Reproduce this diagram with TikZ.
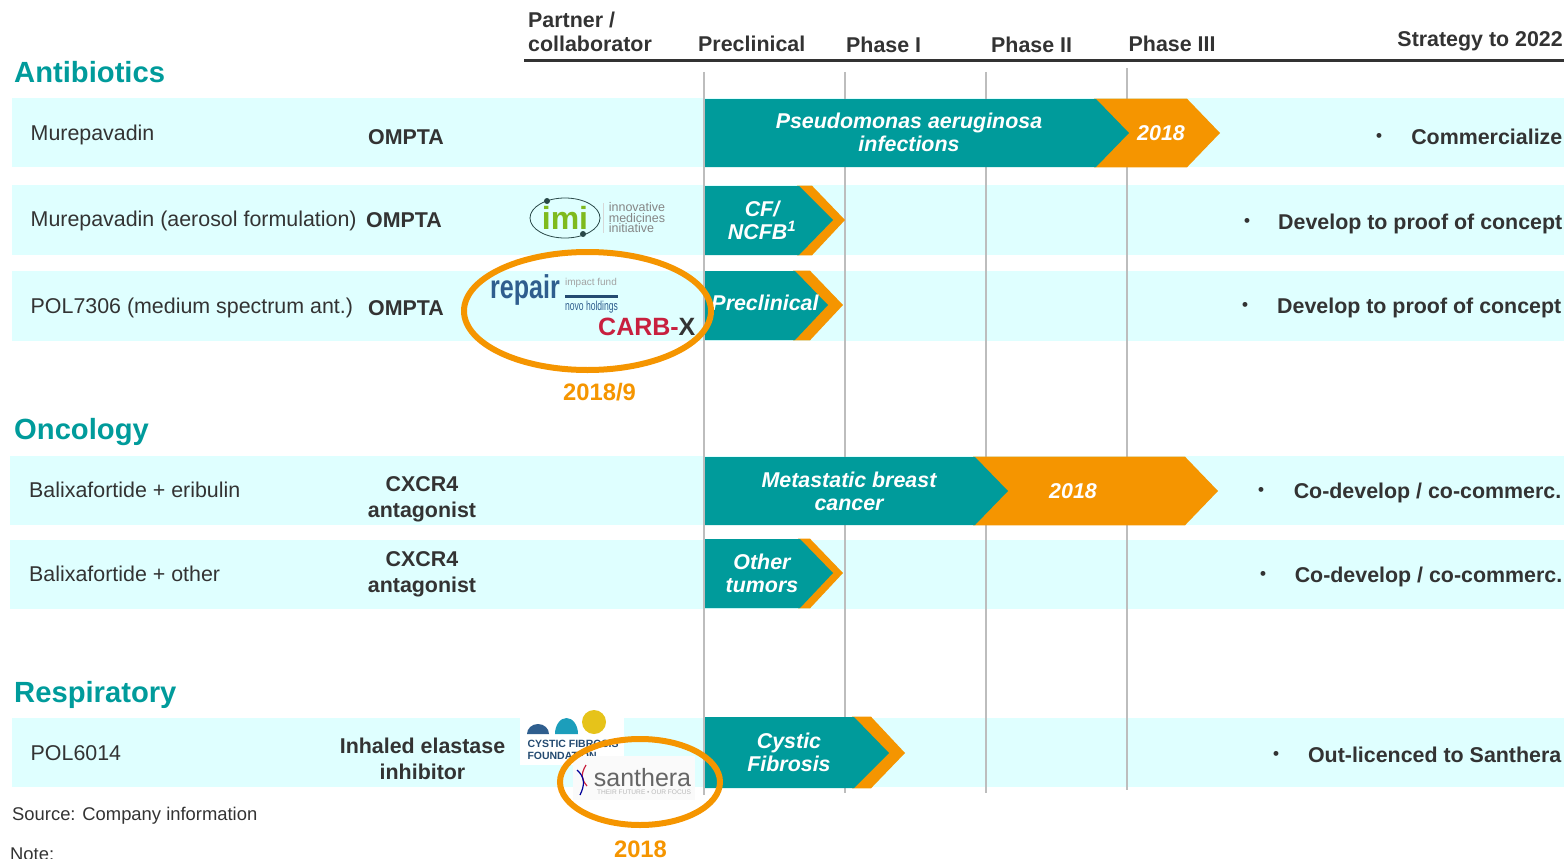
\documentclass[tikz,border=0pt]{standalone}
\usepackage{fontspec}
\setmainfont{Liberation Sans}
\usepackage{tikz}
\definecolor{tealfill}{HTML}{009B9B}
\definecolor{orangefill}{HTML}{F59500}
\definecolor{bandfill}{HTML}{DFFFFF}
\definecolor{darktext}{HTML}{333333}
\definecolor{gridgrey}{HTML}{BDBDBD}
\definecolor{repairblue}{HTML}{2F5E8E}
\definecolor{carbred}{HTML}{C8203F}
\definecolor{imigreen}{HTML}{7FBA1E}
\newcommand{\fsz}[2]{\fontsize{#1}{#2}\selectfont}

\begin{document}
\begin{tikzpicture}[x=1pt, y=-1pt,
    section/.style={anchor=base west, inner sep=0pt, text=tealfill, font=\fsz{29.2}{32}\bfseries},
    header/.style={anchor=base west, inner sep=0pt, align=left, text=darktext, font=\fsz{21.4}{24}\bfseries},
    rowname/.style={anchor=base west, inner sep=0pt, text=darktext, font=\fsz{21.4}{24}},
    target/.style={inner sep=0pt, align=center, text=darktext, font=\fsz{21.4}{26}\bfseries},
    strategy/.style={anchor=base east, inner sep=0pt, text=darktext, font=\fsz{21.4}{25}\bfseries},
    dot/.style={inner sep=0pt, text=darktext, font=\fsz{17}{20}\bfseries},
    stage/.style={inner sep=0pt, align=center, text=white, font=\fsz{21.4}{23}\bfseries\itshape},
    year/.style={inner sep=0pt, text=orangefill, font=\fsz{23.8}{26}\bfseries},
    ring/.style={draw=orangefill, line width=6pt}]
    \clip (0,0) rectangle (1564,859);
    % bands
    \foreach \xa/\ya/\yb in {12/98/167,12/185/255,12/271/341,10/456/525,10/540/609,12/718/787}
    \fill[bandfill] (\xa,\ya) rectangle (1564,\yb);
    % phase lines
    \foreach \x/\ya/\yb in {704/72/795,845/72/793,986/72/793,1127/68/790}
    \draw[gridgrey, line width=1.3pt] (\x,\ya) -- (\x,\yb);
    \draw[darktext, line width=2.4pt] (524,60.5) -- (1564,60.5);
    % chevrons
    \foreach \ya/\ym/\yb/\xa/\xb/\xc/\xd in {
      99/133/167/1096/1129/1187/1220,
      186/220/255/799/833/812/845,
      271/305/340/795/828/810/843,
      457/491/525/975/1008/1185/1218,
      539/573/608/800/833/810/843,
      717/753/788/854/889/871/905}
    {
    \fill[orangefill] (\xa-2,\ya-0.3) -- (\xc,\ya-0.3) -- (\xd,\ym) -- (\xc,\yb+0.3) -- (\xa-2,\yb+0.3) -- cycle;
    \fill[tealfill] (705,\ya) -- (\xa,\ya) -- (\xb,\ym) -- (\xa,\yb) -- (705,\yb) -- cycle;
    }
    % headers
    \node[header] (partner) at (528,52) {Partner /\\collaborator};
    \node[header] (preclin) at (698,52) {Preclinical};
    \node[header] (phasea) at (846,53) {Phase I};
    \node[header] (phaseb) at (991,53) {Phase II};
    \node[header] (phasec) at (1128.5,52) {Phase III};
    \node[strategy] (strat) at (1563,46.5) {Strategy to 2022};
    % sections
    \node[section] (antib) at (14,82) {Antibiotics};
    \node[section] (oncol) at (14,439) {Oncology};
    \node[section] (respi) at (14,702) {Respiratory};
    % row names
    \node[rowname] (mur) at (30.5,140) {Murepavadin};
    \node[rowname] (muraer) at (30.5,226) {Murepavadin (aerosol formulation)};
    \node[rowname] (pol73) at (30.5,313) {POL7306 (medium spectrum ant.)};
    \node[rowname] (balie) at (29,497) {Balixafortide + eribulin};
    \node[rowname] (balio) at (29,581) {Balixafortide + other};
    \node[rowname] (pol60) at (30.5,760) {POL6014};
    % targets
    \node[target] (ta) at (406,137) {OMPTA};
    \node[target] (tb) at (404,220) {OMPTA};
    \node[target] (tc) at (406,308) {OMPTA};
    \node[target] (td) at (422,499) {CXCR4\\antagonist};
    \node[target] (te) at (422,574) {CXCR4\\antagonist};
    \node[target] (tf) at (422.5,759) {Inhaled elastase\\inhibitor};
    % stages
    \node[stage] (sa) at (909,132.5) {Pseudomonas aeruginosa\\infections};
    \node[stage] (saa) at (1161,133) {2018};
    \node[stage] (sb) at (762,220) {CF/\\NCFB\textsuperscript{1}};
    \node[stage] (sc) at (765,303) {Preclinical};
    \node[stage] (sd) at (849,491) {Metastatic breast\\cancer};
    \node[stage] (sdd) at (1073,491) {2018};
    \node[stage] (se) at (762,573.5) {Other\\tumors};
    \node[stage] (sf) at (789,752.5) {Cystic\\Fibrosis};
    % strategy
    \foreach \x/\y/\txt/\b in {
      1562.5/144/{Commercialize}/1379,
      1562.5/229/{Develop to proof of concept}/1247,
      1561.5/313/{Develop to proof of concept}/1245,
      1561.5/498/{Co-develop / co-commerc.}/1261,
      1562.5/582/{Co-develop / co-commerc.}/1263,
      1561.5/762/{Out-licenced to Santhera}/1276}
    {
    \node[strategy] at (\x,\y) {\txt};
    \node[dot] at (\b,\y-7) {•};
    }
    % imi logo
    \draw[darktext!80!tealfill, line width=0.8pt] (565,218) ellipse (35 and 20);
    \fill[darktext!80!tealfill] (547,201) circle (3) (583,234) circle (3);
    \node[inner sep=0pt, text=imigreen, font=\fsz{32}{32}\bfseries] (imi) at (565,218) {imi};
    \draw[gridgrey!60] (603,203) -- (603,233);
    \node[inner sep=0pt, align=left, text=darktext!60, font=\fsz{12.5}{10.5}] (imitxt) at (637,218) {innovative\\medicines\\initiative};
    % repair logo
    \node[inner sep=0pt, xscale=0.76, text=repairblue, font=\fsz{33}{33}\bfseries] (repair) at (525,290) {repair};
    \node[inner sep=0pt, text=darktext!45, font=\fsz{10}{12}] (fund) at (591,283) {impact fund};
    \fill[repairblue!80!black] (565,295) rectangle (618,298);
    \node[inner sep=0pt, xscale=0.66, text=repairblue, font=\fsz{13}{14}] (novo) at (591.5,307) {novo holdings};
    \node[inner sep=0pt, anchor=west, font=\fsz{25}{28}\bfseries] (carb) at (598,327) {\textcolor{carbred}{CARB-}\textcolor{darktext}{X}};
    % cystic fibrosis logo
    \fill[white] (520,709) rectangle (624,765);
    \fill[repairblue] (527,734) arc[start angle=180, end angle=360, x radius=11, y radius=10] -- cycle;
    \fill[repairblue!60!cyan] (555,734) arc[start angle=180, end angle=360, x radius=11.5, y radius=16] -- cycle;
    \fill[yellow!70!orange!90!black] (594,722) circle (12);
    \node[inner sep=0pt, align=left, text=repairblue!80!black, font=\fsz{10.5}{11.5}\bfseries] (cff) at (573,750) {CYSTIC FIBROSIS\\FOUNDATION};
    % santhera logo
    \fill[white!98!black] (573,756) rectangle (695,800);
    \draw[carbred, line width=1.2pt] (586,765) .. controls (580,775) and (582,780) .. (587,786);
    \draw[blue!60!black, line width=1.2pt] (577,770) .. controls (585,777) and (585,785) .. (580,795);
    \node[inner sep=0pt, text=darktext!75, font=\fsz{25}{26}] (santh) at (642.5,778) {santhera};
    \node[inner sep=0pt, text=darktext!35, font=\fsz{6.6}{8}] (santhb) at (644,792.5) {THEIR FUTURE • OUR FOCUS};
    % rings
    \draw[ring] (587.5,311) ellipse (123.5 and 59);
    \draw[ring] (640,782) ellipse (80 and 43);
    \node[year] (ya) at (599.5,392) {2018/9};
    \node[year] (yb) at (640.5,849.5) {2018};
    % notes
    \node[rowname, font=\fsz{18.4}{20}] (source) at (12,820) {Source: Company information};
    \node[rowname, font=\fsz{18.4}{20}] (note) at (10,860) {Note:};
\end{tikzpicture}
\end{document}
